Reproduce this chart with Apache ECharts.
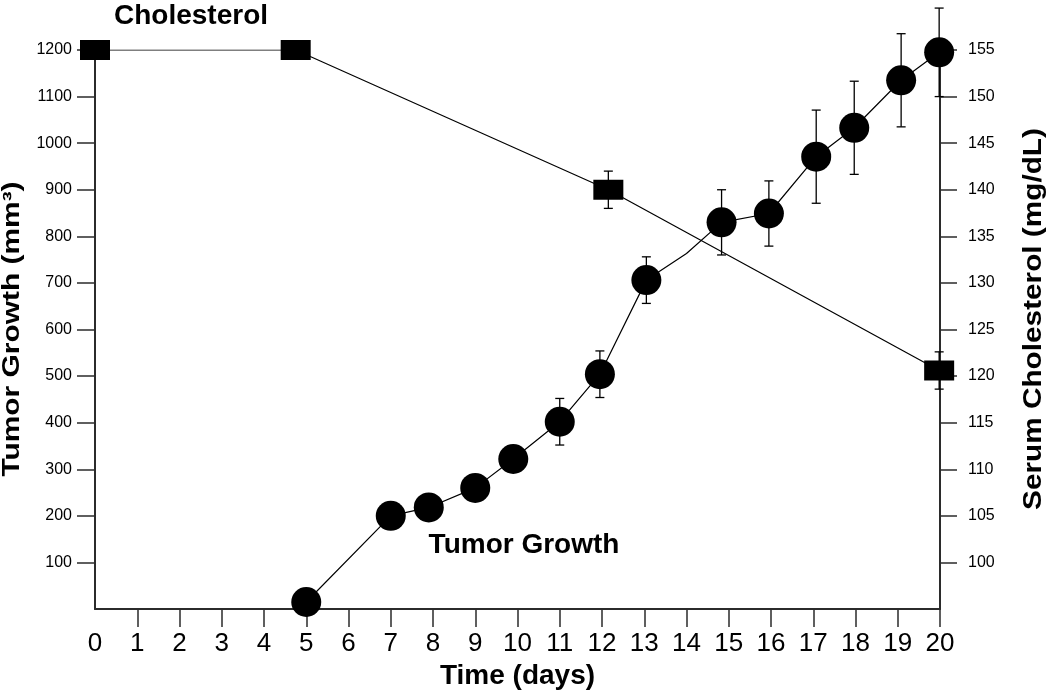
<!DOCTYPE html>
<html>
<head>
<meta charset="utf-8">
<script src="https://cdn.jsdelivr.net/npm/echarts@6/dist/echarts.min.js"></script>
<style>
  html, body { margin: 0; padding: 0; background: #fff; }
  #chart { width: 1050px; height: 693px; }
</style>
</head>
<body>
<div id="chart"></div>
<script>
// ---- Data ----
const xTicks = [1,2,3,4,5,6,7,8,9,10,11,12,13,14,15,16,17,18,19,20];
const leftTicks = [100,200,300,400,500,600,700,800,900,1000,1100,1200];
const rightTicks = [100,105,110,115,120,125,130,135,140,145,150,155];

// Tumor growth (mm^3), left axis
const tumorDays   = [5, 7, 7.9, 9, 9.9, 11, 11.95, 13.05, 14, 14.83, 15.95, 17.07, 17.97, 19.08, 19.98];
const tumorValues = [15, 200, 218, 260, 322, 402, 504, 706, 763, 830, 849, 971, 1033, 1135, 1195];
const tumorErrors = [0, 0, 0, 0, 0, 50, 50, 50, 0, 70, 70, 100, 100, 100, 95];
const tumorMarker = [1, 1, 1, 1, 1, 1, 1, 1, 0, 1, 1, 1, 1, 1, 1];

// Serum cholesterol (mg/dL), right axis
const cholDays   = [0, 4.75, 12.15, 19.98];
const cholValues = [155, 155, 140, 120.6];
const cholErrors = [0, 0, 2, 2];

const FONT = "'Liberation Sans', Arial, Helvetica, sans-serif";
const INK = '#000';
const AXIS = '#2b2b2b';

function errData(xs, ys, es) {
  const out = [];
  for (let i = 0; i < xs.length; i++) if (es[i] > 0) out.push([xs[i], ys[i], es[i]]);
  return out;
}
function errRender(params, api) {
  const x = api.value(0), y = api.value(1), e = api.value(2);
  const hi = api.coord([x, y + e]);
  const lo = api.coord([x, y - e]);
  const cap = 4.5;
  const st = { stroke: INK, lineWidth: 1.3 };
  return {
    type: 'group',
    children: [
      { type: 'line', shape: { x1: hi[0], y1: hi[1], x2: lo[0], y2: lo[1] }, style: st },
      { type: 'line', shape: { x1: hi[0] - cap, y1: hi[1], x2: hi[0] + cap, y2: hi[1] }, style: st },
      { type: 'line', shape: { x1: lo[0] - cap, y1: lo[1], x2: lo[0] + cap, y2: lo[1] }, style: st }
    ]
  };
}
const plain = v => String(v);

const chart = echarts.init(document.getElementById('chart'), null, { renderer: 'canvas' });
chart.setOption({
  animation: false,
  backgroundColor: '#fff',
  grid: { left: 95, right: 110, top: 50, bottom: 84, containLabel: false, outerBoundsMode: 'none' },
  xAxis: {
    type: 'value', min: 0, max: 20, interval: 1,
    name: 'Time (days)', nameLocation: 'middle', nameGap: 53,
    nameTextStyle: { fontFamily: FONT, fontSize: 28, fontWeight: 'bold', color: INK },
    axisLine: { onZero: false, lineStyle: { color: AXIS, width: 2 } },
    axisTick: { inside: false, customValues: xTicks, length: 18, lineStyle: { color: AXIS, width: 1.5 } },
    axisLabel: { fontFamily: FONT, fontSize: 26, color: INK, margin: 22, formatter: plain },
    splitLine: { show: false }
  },
  yAxis: [
    {
      type: 'value', min: 0, max: 1200, interval: 100, position: 'left',
      axisLine: { show: true, onZero: false, lineStyle: { color: AXIS, width: 2 } },
      axisTick: { show: true, inside: false, customValues: leftTicks, length: 18, lineStyle: { color: AXIS, width: 1.5 } },
      axisLabel: { customValues: leftTicks, fontFamily: FONT, fontSize: 16, color: INK, margin: 23, formatter: plain },
      splitLine: { show: false }
    },
    {
      type: 'value', min: 95, max: 155, interval: 5, position: 'right',
      axisLine: { show: true, onZero: false, lineStyle: { color: AXIS, width: 2 } },
      axisTick: { show: true, inside: false, customValues: rightTicks, length: 17, lineStyle: { color: AXIS, width: 1.5 } },
      axisLabel: { customValues: rightTicks, fontFamily: FONT, fontSize: 16, color: INK, margin: 28, formatter: plain },
      splitLine: { show: false }
    }
  ],
  graphic: [
    { type: 'text', x: 13, y: 329, rotation: Math.PI / 2, scaleX: 1.3,
      style: { text: 'Tumor Growth (mm³)', font: 'bold 23px ' + FONT, fill: INK, align: 'center', verticalAlign: 'middle' } },
    { type: 'text', x: 1034, y: 319, rotation: Math.PI / 2, scaleX: 1.19,
      style: { text: 'Serum Cholesterol (mg/dL)', font: 'bold 25px ' + FONT, fill: INK, align: 'center', verticalAlign: 'middle' } },
    { type: 'text', x: 191, y: 16,
      style: { text: 'Cholesterol', font: 'bold 28px ' + FONT, fill: INK, align: 'center', verticalAlign: 'middle' } },
    { type: 'text', x: 524, y: 545,
      style: { text: 'Tumor Growth', font: 'bold 28px ' + FONT, fill: INK, align: 'center', verticalAlign: 'middle' } }
  ],
  series: [
    {
      type: 'custom', yAxisIndex: 0, renderItem: errRender, clip: false,
      data: errData(tumorDays, tumorValues, tumorErrors), z: 1
    },
    {
      type: 'custom', yAxisIndex: 1, renderItem: errRender, clip: false,
      data: errData(cholDays, cholValues, cholErrors), z: 1
    },
    {
      name: 'Cholesterol', type: 'line', yAxisIndex: 1,
      data: cholDays.map((d, i) => [d, cholValues[i]]),
      symbol: 'rect', symbolSize: [30, 20],
      itemStyle: { color: INK }, lineStyle: { color: INK, width: 1.2 },
      z: 3
    },
    {
      name: 'Tumor Growth', type: 'line', yAxisIndex: 0,
      data: tumorDays.map((d, i) => [d, tumorValues[i]]),
      symbol: 'circle',
      symbolSize: (v, p) => tumorMarker[p.dataIndex] ? 30 : 0,
      showAllSymbol: true,
      itemStyle: { color: INK }, lineStyle: { color: INK, width: 1.2 },
      z: 4
    }
  ]
});
</script>
</body>
</html>
